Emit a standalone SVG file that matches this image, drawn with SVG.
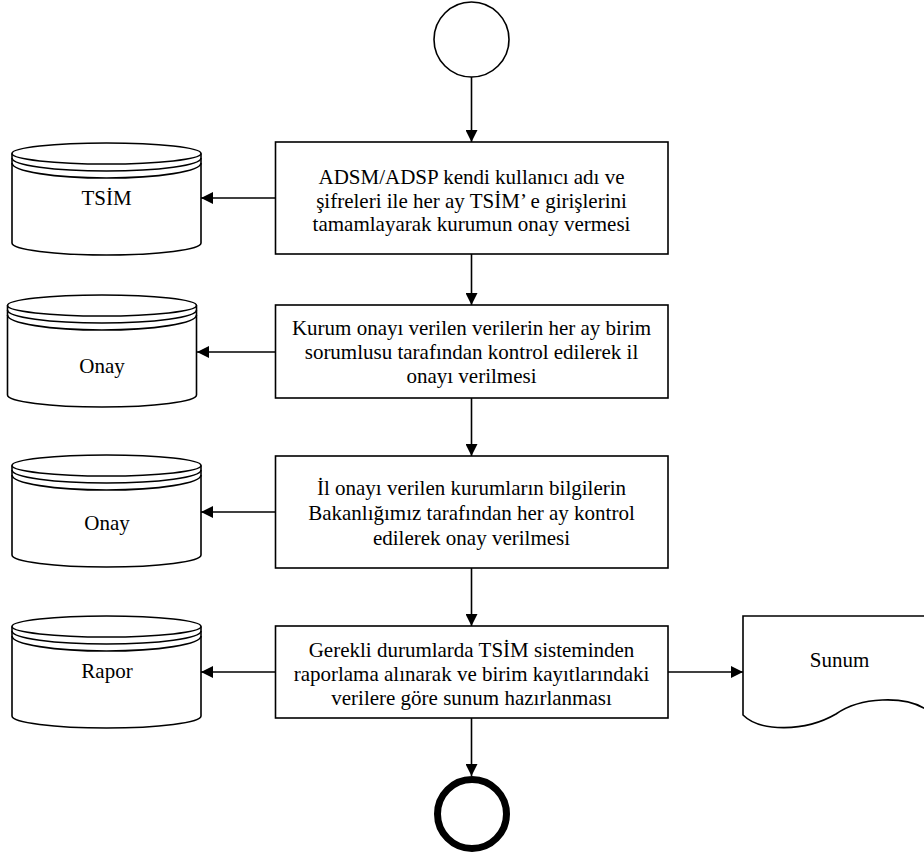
<svg xmlns="http://www.w3.org/2000/svg" xmlns:xlink="http://www.w3.org/1999/xlink" width="924" height="856" viewBox="0 0 924 856">
  <style>
    .shape { fill: #ffffff; stroke: #000000; stroke-width: 1.6; }
    .line { fill: none; stroke: #000000; stroke-width: 1.6; }
    text { font-family: 'Liberation Serif', 'Times New Roman', serif; font-size: 21px; fill: #000000; text-anchor: middle; }
  </style>
  <defs>
    <marker id="arrow" markerUnits="userSpaceOnUse" markerWidth="13" markerHeight="12" refX="12" refY="6" orient="auto">
      <path d="M0,0 L12,6 L0,12 Z" fill="#000000"/>
    </marker>
    <!-- data store: cylinder with three rims on top -->
    <g id="datastore">
      <path class="shape" d="M0,10.5 A94.5,10.5 0 0 1 189,10.5 V100 A94.5,12 0 0 1 0,100 Z"/>
      <path class="line" d="M0,10.5 A94.5,10.5 0 0 0 189,10.5"/>
      <path class="line" d="M0,15 A94.5,13 0 0 0 189,15"/>
      <path class="line" d="M0,20 A94.5,15 0 0 0 189,20"/>
    </g>
  </defs>

  <rect width="924" height="856" fill="#ffffff"/>

  <!-- connectors -->
  <g id="connectors">
    <line class="line" x1="471.5" y1="77" x2="471.5" y2="142" marker-end="url(#arrow)"/>
    <line class="line" x1="471.5" y1="254" x2="471.5" y2="305" marker-end="url(#arrow)"/>
    <line class="line" x1="471.5" y1="398" x2="471.5" y2="456" marker-end="url(#arrow)"/>
    <line class="line" x1="471.5" y1="568" x2="471.5" y2="626" marker-end="url(#arrow)"/>
    <line class="line" x1="471.5" y1="718" x2="471.5" y2="776" marker-end="url(#arrow)"/>
    <line class="line" x1="275.5" y1="198" x2="201" y2="198" marker-end="url(#arrow)"/>
    <line class="line" x1="275.5" y1="352" x2="197" y2="352" marker-end="url(#arrow)"/>
    <line class="line" x1="275.5" y1="512" x2="201" y2="512" marker-end="url(#arrow)"/>
    <line class="line" x1="275.5" y1="672" x2="201" y2="672" marker-end="url(#arrow)"/>
    <line class="line" x1="668" y1="672" x2="743" y2="672" marker-end="url(#arrow)"/>
  </g>

  <!-- start -->
  <g id="start">
    <circle class="shape" cx="471.5" cy="39.5" r="37.5"/>
  </g>

  <!-- process steps -->
  <g id="step1">
    <rect class="shape" x="275.5" y="142" width="392.5" height="112"/>
    <text x="471.5" y="184">ADSM/ADSP kendi kullanıcı adı ve</text>
    <text x="471.5" y="207.5">şifreleri ile her ay TSİM’ e girişlerini</text>
    <text x="471.5" y="231">tamamlayarak kurumun onay vermesi</text>
  </g>
  <g id="step2">
    <rect class="shape" x="275.5" y="305" width="392.5" height="93"/>
    <text x="471.5" y="335">Kurum onayı verilen verilerin her ay birim</text>
    <text x="471.5" y="359">sorumlusu tarafından kontrol edilerek il</text>
    <text x="471.5" y="383">onayı verilmesi</text>
  </g>
  <g id="step3">
    <rect class="shape" x="275.5" y="456" width="392.5" height="112"/>
    <text x="471.5" y="495">İl onayı verilen kurumların bilgilerin</text>
    <text x="471.5" y="520">Bakanlığımız tarafından her ay kontrol</text>
    <text x="471.5" y="545">edilerek onay verilmesi</text>
  </g>
  <g id="step4">
    <rect class="shape" x="275.5" y="626" width="392.5" height="92"/>
    <text x="471.5" y="657">Gerekli durumlarda TSİM sisteminden</text>
    <text x="471.5" y="681">raporlama alınarak ve birim kayıtlarındaki</text>
    <text x="471.5" y="705">verilere göre sunum hazırlanması</text>
  </g>

  <!-- data stores -->
  <g id="store-tsim">
    <use xlink:href="#datastore" transform="translate(12,143)"/>
    <text x="106.5" y="205">TSİM</text>
  </g>
  <g id="store-onay1">
    <use xlink:href="#datastore" transform="translate(7.5,295)"/>
    <text x="102" y="373">Onay</text>
  </g>
  <g id="store-onay2">
    <use xlink:href="#datastore" transform="translate(12,455)"/>
    <text x="107" y="530">Onay</text>
  </g>
  <g id="store-rapor">
    <use xlink:href="#datastore" transform="translate(12,616)"/>
    <text x="107" y="678">Rapor</text>
  </g>

  <!-- document -->
  <g id="doc-sunum">
    <path class="shape" d="M743,616 H927 V710 C905,695 860,697 836,714 C805,732 760,732 743,715 Z"/>
    <text x="839.5" y="667">Sunum</text>
  </g>

  <!-- end -->
  <g id="end">
    <circle cx="472" cy="814" r="34.5" fill="#ffffff" stroke="#000000" stroke-width="7"/>
  </g>
</svg>
